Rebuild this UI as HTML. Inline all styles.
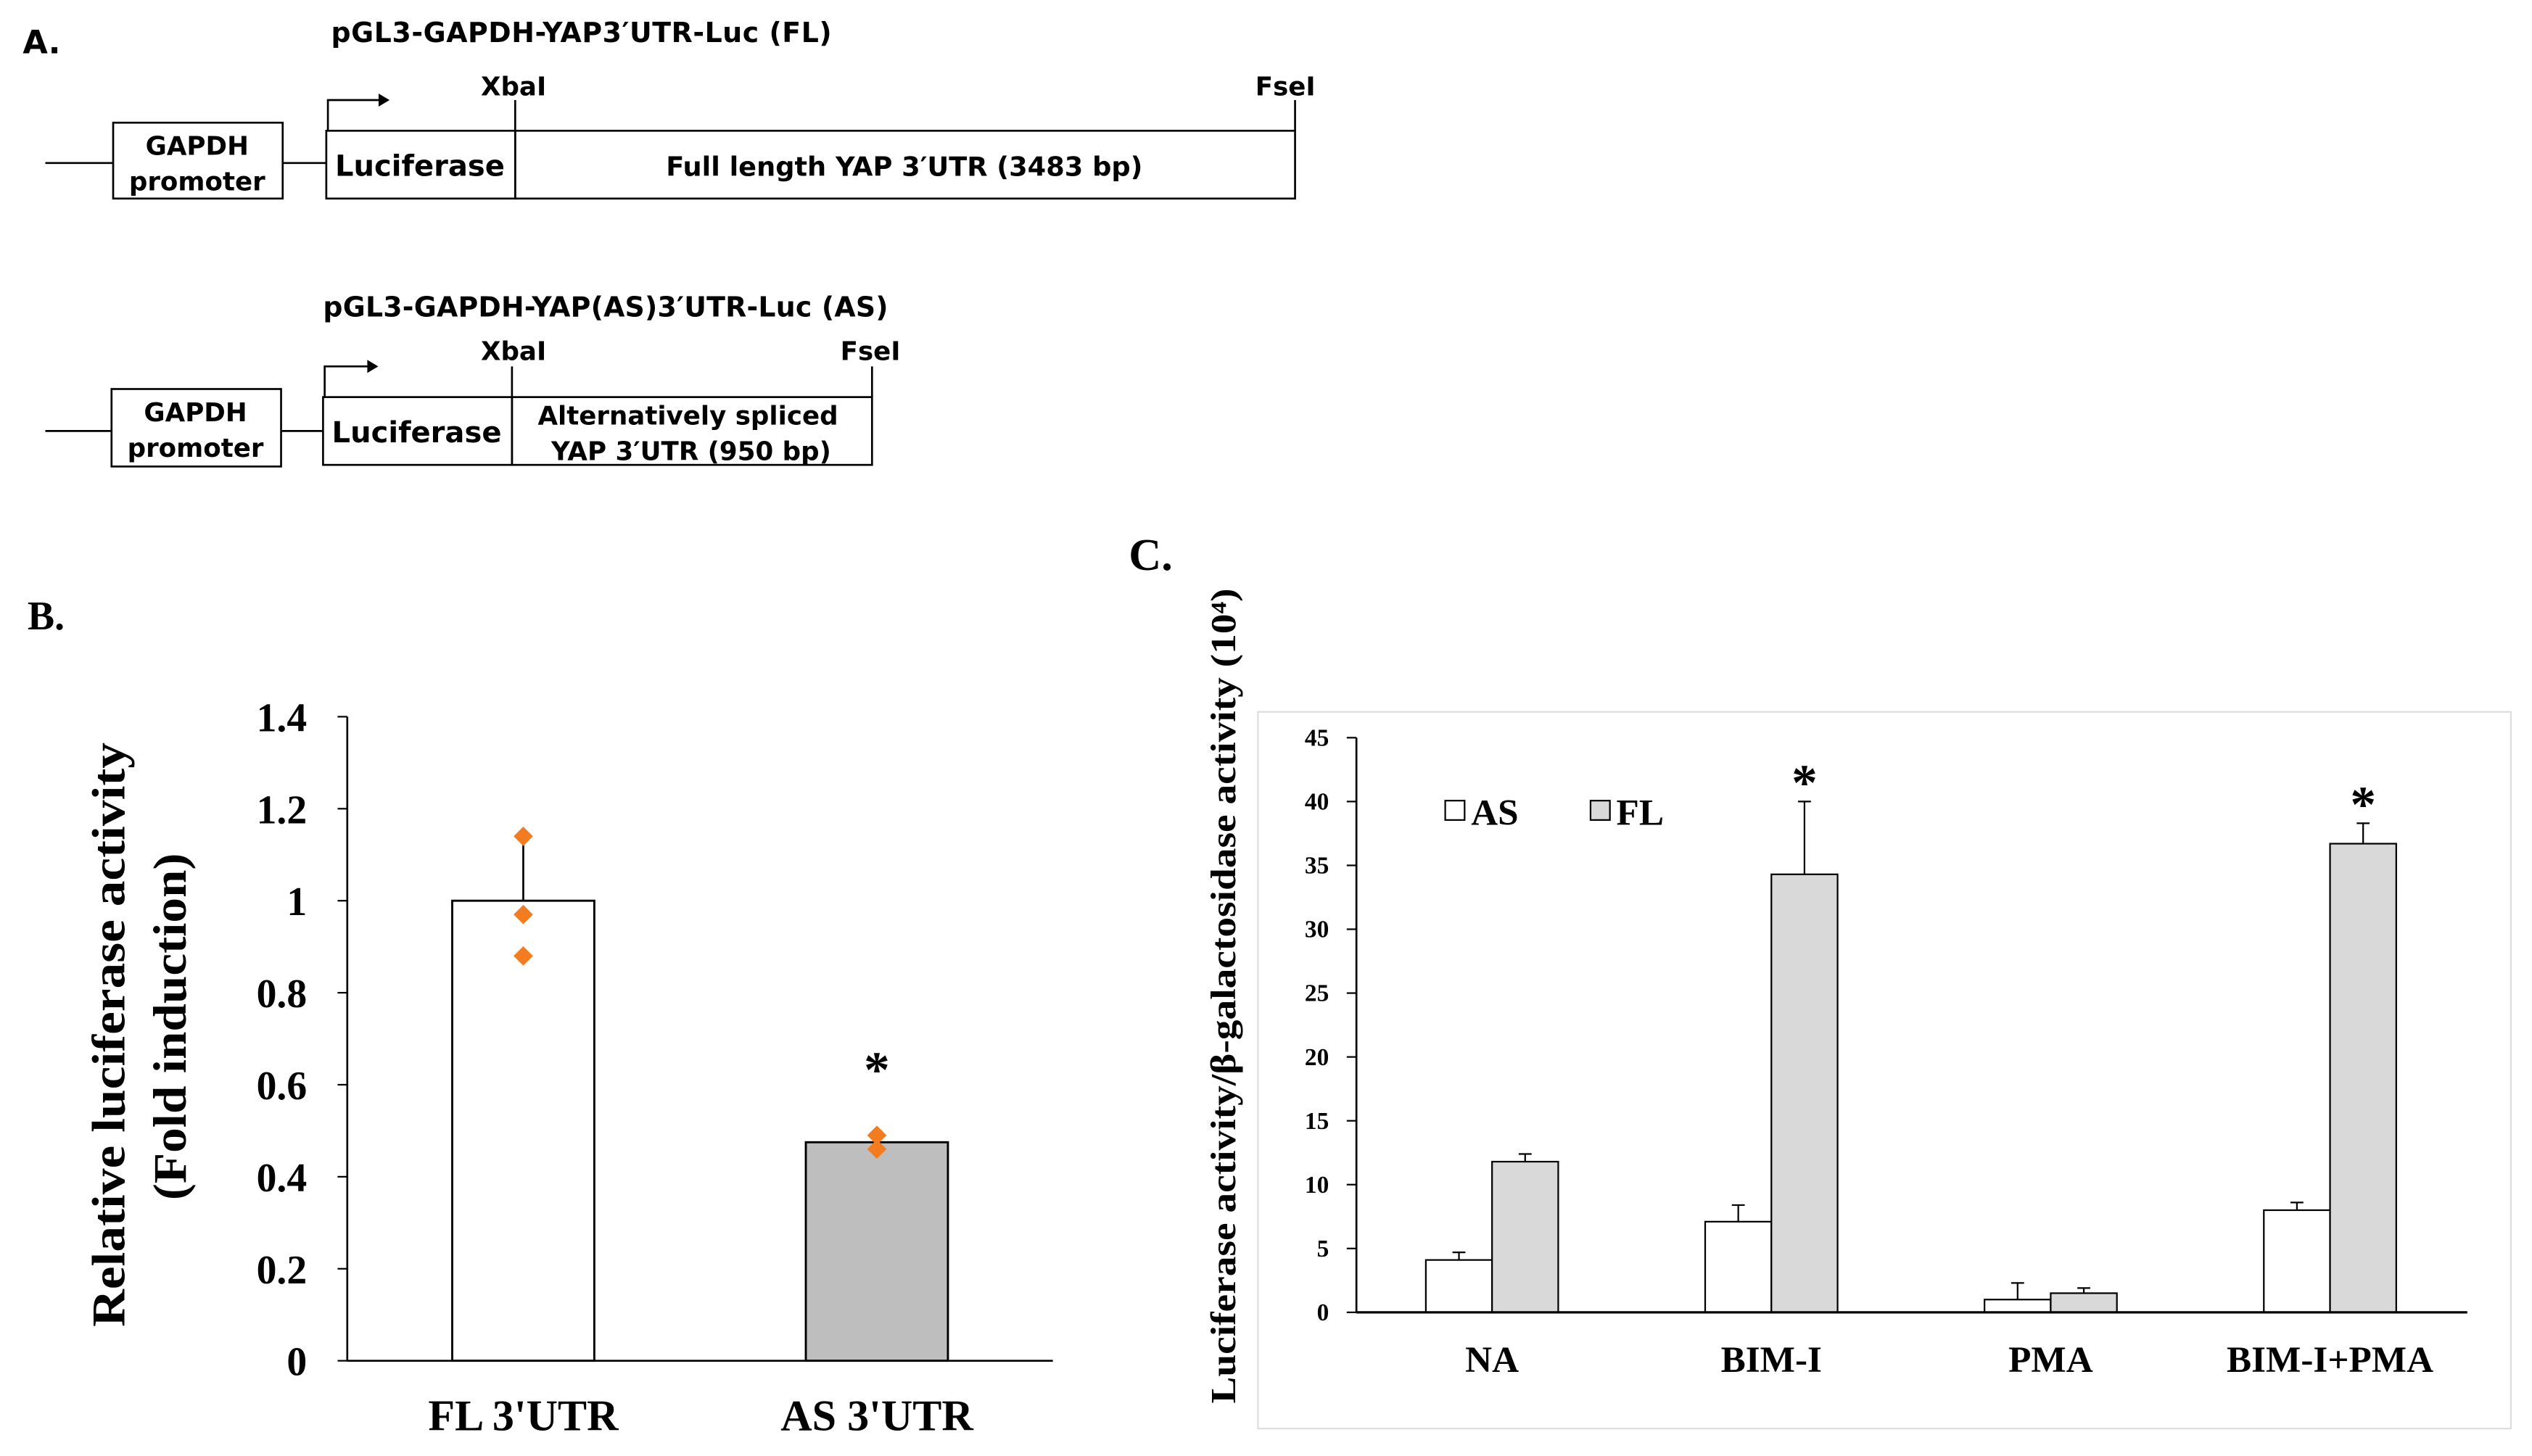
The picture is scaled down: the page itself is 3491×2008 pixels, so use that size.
<!DOCTYPE html>
<html><head><meta charset="utf-8"><style>
html,body{margin:0;padding:0;background:#fff}
svg{display:block}
.v{font-family:"DejaVu Sans","Liberation Sans",sans-serif;font-weight:bold}
.t{font-family:"Liberation Serif",serif;font-weight:bold}
</style></head><body>
<svg id="fig" width="3491" height="2008" viewBox="0 0 1568 902" xmlns="http://www.w3.org/2000/svg">
<g fill="none" stroke="#000" stroke-width="1.2">
 <text class="v" x="14" y="33" font-size="20" fill="#000" stroke="none">A.</text>
 <text class="v" x="205" y="26" font-size="17" fill="#000" stroke="none" textLength="310">pGL3-GAPDH-YAP3′UTR-Luc  (FL)</text>
 <line x1="28" y1="101" x2="70" y2="101"/><rect x="70" y="76" width="105" height="47"/>
 <line x1="175" y1="101" x2="202" y2="101"/>
 <rect x="202" y="81" width="117" height="42"/>
 <rect x="319" y="81" width="483" height="42"/>
 <polyline points="203,81 203,62 235,62"/><polygon points="235,59 240,62 235,65" fill="#000"/>
 <line x1="319" y1="62" x2="319" y2="81"/><line x1="802" y1="62" x2="802" y2="81"/>
 <g fill="#000" stroke="none" class="v">
 <text x="122" y="96" font-size="16" text-anchor="middle">GAPDH</text><text x="122" y="118" font-size="16" text-anchor="middle">promoter</text>
 <text x="260" y="109" font-size="18" text-anchor="middle">Luciferase</text>
 <text x="560" y="109" font-size="16.5" text-anchor="middle">Full length YAP 3′UTR (3483 bp)</text>
 <text x="318" y="59" font-size="16" text-anchor="middle">XbaI</text><text x="796" y="59" font-size="16" text-anchor="middle">FseI</text>
 <text x="200" y="196" font-size="17" textLength="350">pGL3-GAPDH-YAP(AS)3′UTR-Luc (AS)</text>
 <text x="121" y="261" font-size="16" text-anchor="middle">GAPDH</text><text x="121" y="283" font-size="16" text-anchor="middle">promoter</text>
 <text x="258" y="274" font-size="18" text-anchor="middle">Luciferase</text>
 <text x="426" y="263" font-size="16" text-anchor="middle">Alternatively spliced</text><text x="428" y="285" font-size="16" text-anchor="middle">YAP 3′UTR (950 bp)</text>
 <text x="318" y="223" font-size="16" text-anchor="middle">XbaI</text><text x="539" y="223" font-size="16" text-anchor="middle">FseI</text>
 </g>
 <line x1="28" y1="267" x2="69" y2="267"/><rect x="69" y="241" width="105" height="48"/>
 <line x1="174" y1="267" x2="200" y2="267"/>
 <rect x="200" y="246" width="117" height="42"/>
 <rect x="317" y="246" width="223" height="42"/>
 <polyline points="201,246 201,227 228,227"/><polygon points="228,224 233,227 228,230" fill="#000"/>
 <line x1="317" y1="227" x2="317" y2="246"/><line x1="540" y1="227" x2="540" y2="246"/>
</g>
<g id="pb"></g>
<g id="pc"></g>
</svg>
<script>
const NS='http://www.w3.org/2000/svg';
function mk(p,tag,a,txt){const e=document.createElementNS(NS,tag);for(const k in a)e.setAttribute(k,a[k]);if(txt!==undefined)e.textContent=txt;p.appendChild(e);return e;}
// Panel B data
const bCats=['FL 3\'UTR','AS 3\'UTR'];
const bVals=[1.0,0.475];
const bErr=[0.13,0.0];
const bPoints=[[1.14,0.97,0.88],[0.49,0.46]];
const bTicks=[0,0.2,0.4,0.6,0.8,1,1.2,1.4];
const bTickLabels=['0','0.2','0.4','0.6','0.8','1','1.2','1.4'];
const bSig=[false,true];
// Panel C data
const cCats=['NA','BIM-I','PMA','BIM-I+PMA'];
const cAS=[4.1,7.1,1.0,8.0];
const cFL=[11.8,34.3,1.5,36.7];
const cASerr=[0.6,1.3,1.3,0.6];
const cFLerr=[0.6,5.7,0.4,1.6];
const cSig=[false,true,false,true];
const cTicks=[0,5,10,15,20,25,30,35,40,45];

(function(){
 const g=document.getElementById('pb');
 const y=v=>843-v*(399/1.4), x=i=>324+i*219, bw=88;
 let t=mk(g,'text',{x:17,y:390,'font-size':25,class:'t'},'B.');
 
 
 t=mk(g,'text',{class:'t','font-size':29,'text-anchor':'middle',textLength:362,lengthAdjust:'spacingAndGlyphs',transform:'translate(77,641) rotate(-90)'},'Relative luciferase activity');
 
 
 t=mk(g,'text',{class:'t','font-size':29,'text-anchor':'middle',textLength:215,lengthAdjust:'spacingAndGlyphs',transform:'translate(115,636) rotate(-90)'},'(Fold induction)');
 
 
 bTicks.forEach((v,i)=>{mk(g,'line',{x1:209,x2:215,y1:y(v),y2:y(v),stroke:'#000'});
  const l=mk(g,'text',{x:190,y:y(v)+9,'font-size':25,'text-anchor':'end',class:'t'},bTickLabels[i]);
  
  });
 bVals.forEach((v,i)=>{
  if(bErr[i]>0)mk(g,'line',{x1:x(i),x2:x(i),y1:y(v),y2:y(v+bErr[i]),stroke:'#000','stroke-width':1.2});
  const r=mk(g,'rect',{x:x(i)-bw/2,y:y(v),width:bw,height:843-y(v),fill:i?'#bebebe':'#fff',stroke:'#000','stroke-width':1.3});
  
  
  bPoints[i].forEach(p=>{const d=mk(g,'polygon',{points:`${x(i)},${y(p)-6} ${x(i)+6},${y(p)} ${x(i)},${y(p)+6} ${x(i)-6},${y(p)}`,fill:'#f47c20'});
   
   });
  if(bSig[i]){const s=mk(g,'text',{x:x(i),y:y(Math.max(v,...bPoints[i]))-30,'font-size':32,'text-anchor':'middle',class:'t'},'*');
   
   }
  const l=mk(g,'text',{x:x(i),y:886,'font-size':27,'text-anchor':'middle',class:'t'},bCats[i]);
  
  
 });
 mk(g,'line',{x1:215,x2:215,y1:444,y2:843,stroke:'#000','stroke-width':1.2});
 mk(g,'line',{x1:215,x2:652,y1:843,y2:843,stroke:'#000','stroke-width':1.2});
})();

(function(){
 const g=document.getElementById('pc');
 const y=v=>813-v*(356/45), cx=i=>924+i*173, bw=41;
 let t=mk(g,'text',{x:699,y:353,'font-size':28,class:'t'},'C.');
 
 
 const fr=mk(g,'rect',{x:779,y:441,width:776,height:444,fill:'none',stroke:'#ddd','stroke-width':1});
 
 
 t=mk(g,'text',{class:'t','font-size':22,'text-anchor':'middle',textLength:505,lengthAdjust:'spacingAndGlyphs',transform:'translate(765,617) rotate(-90)'},'Luciferase activity/β-galactosidase activity (10⁴)');
 
 
 cTicks.forEach(v=>{mk(g,'line',{x1:834,x2:840,y1:y(v),y2:y(v),stroke:'#000'});
  const l=mk(g,'text',{x:823,y:y(v)+5,'font-size':15,'text-anchor':'end',class:'t'},String(v));
  
  });
 cCats.forEach((c,i)=>{
  [[cAS,cASerr,'#fff',-1,'as'],[cFL,cFLerr,'#d9d9d9',0,'fl']].forEach(([vals,errs,fill,off,nm])=>{
   const x0=cx(i)+off*bw, v=vals[i];
   mk(g,'line',{x1:x0+bw/2,x2:x0+bw/2,y1:y(v),y2:y(v+errs[i]),stroke:'#000'});
   mk(g,'line',{x1:x0+bw/2-4,x2:x0+bw/2+4,y1:y(v+errs[i]),y2:y(v+errs[i]),stroke:'#000'});
   const r=mk(g,'rect',{x:x0,y:y(v),width:bw,height:813-y(v),fill:fill,stroke:'#000','stroke-width':1});
   
   
  });
  if(cSig[i]){const s=mk(g,'text',{x:cx(i)+bw/2,y:y(cFL[i]+cFLerr[i])-1,'font-size':32,'text-anchor':'middle',class:'t'},'*');
   
   }
  const l=mk(g,'text',{x:cx(i),y:850,'font-size':23,'text-anchor':'middle',class:'t'},c);
  
  
 });
 mk(g,'line',{x1:840,x2:840,y1:457,y2:813,stroke:'#000','stroke-width':1.2});
 mk(g,'line',{x1:840,x2:1528,y1:813,y2:813,stroke:'#000','stroke-width':1.5});
 [['AS','#fff',895],['FL','#d9d9d9',985]].forEach(([n,f,lx])=>{
  const r=mk(g,'rect',{x:lx,y:496,width:12,height:12,fill:f,stroke:'#000'});
  
  
  const l=mk(g,'text',{x:lx+16,y:511,'font-size':23,class:'t'},n);
  
  
 });
})();
</script>
</body></html>
